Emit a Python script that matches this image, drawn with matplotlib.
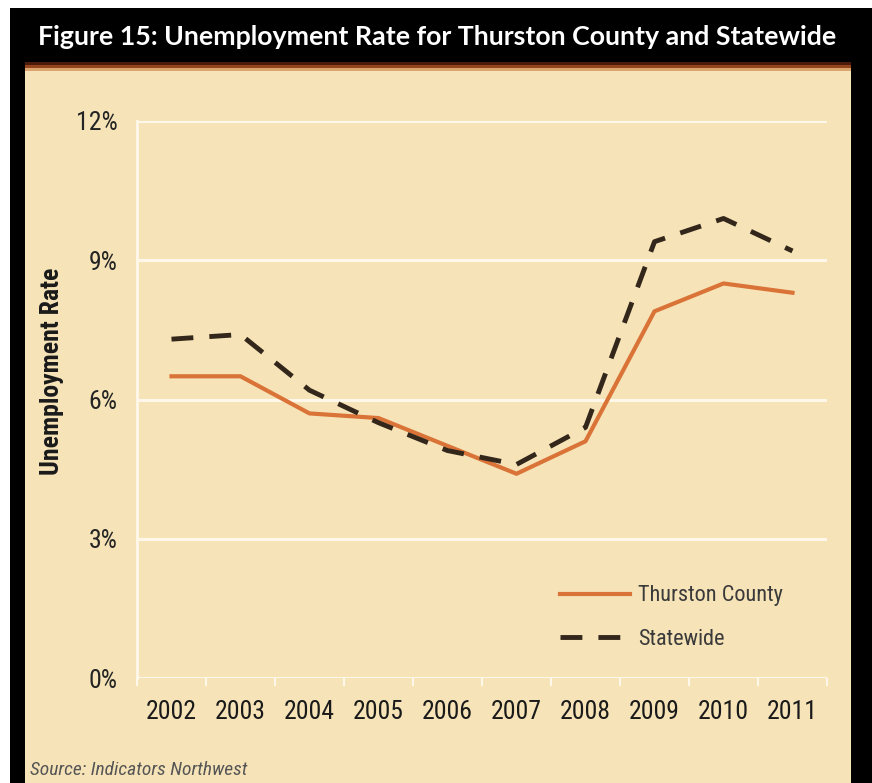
import matplotlib
matplotlib.use("Agg")
import matplotlib.pyplot as plt
from matplotlib import font_manager as fm
from matplotlib.patches import Rectangle
from matplotlib.ticker import FixedLocator, NullFormatter

years = ["2002", "2003", "2004", "2005", "2006", "2007", "2008", "2009", "2010", "2011"]
thurston = [6.5, 6.5, 5.7, 5.6, 5.0, 4.4, 5.1, 7.9, 8.5, 8.3]
statewide = [7.3, 7.4, 6.2, 5.5, 4.9, 4.6, 5.4, 9.4, 9.9, 9.2]
y_ticks = [0, 3, 6, 9, 12]
y_labels = ["0%", "3%", "6%", "9%", "12%"]

BEIGE = "#F6E4B8"
ORANGE = "#DA7337"
DARK = "#33261A"
GRID = "#FFF8EA"

# pick a narrow sans face for the axis text
fonts = fm.fontManager.ttflist
names = {f.name for f in fonts}
NARROW_STRETCH = "normal"
NARROW_SCALE = 1.0
for cand in ["Liberation Sans Narrow", "Roboto Condensed", "Open Sans Condensed",
             "DejaVu Sans Condensed"]:
    if cand in names:
        NARROW = cand
        break
else:
    cond = [f for f in fonts if str(f.stretch) in ("condensed", "semi-condensed")
            or (isinstance(f.stretch, int) and f.stretch < 500)]
    if cond:
        NARROW = cond[0].name
        NARROW_STRETCH = "condensed"
    else:
        NARROW = "Liberation Sans"
        NARROW_SCALE = 0.85
NARROW_FAM = [NARROW, "DejaVu Sans"]

W, H = 872, 783
fig = plt.figure(figsize=(W / 100, H / 100), dpi=100, facecolor="white")


def px_rect(x0, y0, x1, y1, color):
    """Rectangle in pixel coordinates measured from the top-left corner."""
    fig.patches.append(Rectangle((x0 / W, 1 - y1 / H), (x1 - x0) / W, (y1 - y0) / H,
                                 transform=fig.transFigure, facecolor=color,
                                 edgecolor="none", zorder=-5))


# panel background and black frame
px_rect(10, 8, 852, H, BEIGE)
px_rect(10, 8, 25, H, "black")
px_rect(851, 8, W, H, "black")
px_rect(10, 8, 852, 62, "black")
# warm rule under the title bar
px_rect(25, 62, 851, 65, "#4A1A0A")
px_rect(25, 65, 851, 68, "#94451E")
px_rect(25, 68, 851, 71, "#D9A46E")

fig.text(437 / W, 1 - 37 / H, "Figure 15: Unemployment Rate for Thurston County and Statewide",
         color="white", fontsize=19.3, fontweight="bold", family=["Lato", "DejaVu Sans"],
         ha="center", va="center")

ax = fig.add_axes([137 / W, 1 - 678 / H, (827 - 137) / W, (678 - 121) / H], zorder=2)
ax.set_facecolor(BEIGE)
x = list(range(len(years)))

tick_font = dict(family=NARROW_FAM, fontsize=18.5 * NARROW_SCALE, fontstretch=NARROW_STRETCH)
ax.set_xlim(-0.5, len(years) - 0.5)
ax.set_ylim(0, 12)
ax.set_yticks(y_ticks)
ax.set_yticklabels(y_labels, color="#242424", **tick_font)
ax.set_xticks(x)
ax.set_xticklabels(years, color="#1A1A1A", **tick_font)
ax.xaxis.set_minor_locator(FixedLocator([i - 0.5 for i in range(len(years) + 1)]))
ax.xaxis.set_minor_formatter(NullFormatter())
ax.tick_params(axis="x", which="major", length=0, pad=16)
ax.tick_params(axis="x", which="minor", length=6, width=1.5, color=GRID)
ax.tick_params(axis="y", length=0, pad=14)

for spine in ["top", "right", "bottom"]:
    ax.spines[spine].set_visible(False)
ax.spines["left"].set_color(GRID)
ax.spines["left"].set_linewidth(2)

ax.grid(axis="y", color=GRID, linewidth=2.2)
ax.set_axisbelow(True)

ax.plot(x, thurston, color=ORANGE, linewidth=3, label="Thurston County", solid_joinstyle="round")
ax.plot(x, statewide, color=DARK, linewidth=3.5, dashes=(4.5, 3.3), label="Statewide")

ax.set_ylabel("Unemployment Rate", family=NARROW_FAM, fontsize=18.5 * NARROW_SCALE,
              fontweight="bold", fontstretch=NARROW_STRETCH, color="#1A1A1A")
ax.yaxis.set_label_coords((64 - 137) / 690, 0.55)

leg = ax.legend(loc="lower right", bbox_to_anchor=(0.965, 0.015), frameon=False,
                prop={"family": NARROW_FAM, "size": 16 * NARROW_SCALE,
                      "stretch": NARROW_STRETCH},
                handlelength=3.15, handletextpad=0.35, labelspacing=1.0)
for t in leg.get_texts():
    t.set_color("#3A3A3A")

fig.text(30 / W, 1 - 770 / H, "Source: Indicators Northwest", family=NARROW_FAM,
         fontsize=14 * NARROW_SCALE, fontstretch=NARROW_STRETCH, style="italic",
         color="#555555", ha="left", va="center")

fig.savefig("out.png", dpi=100, facecolor="white")
